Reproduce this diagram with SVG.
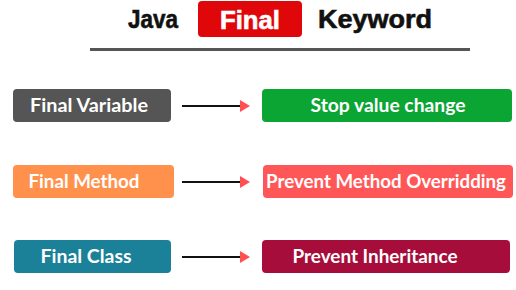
<svg xmlns="http://www.w3.org/2000/svg" width="516" height="290" viewBox="0 0 516 290">
<defs>
<marker id="ah" viewBox="0 0 10 12" refX="0" refY="6" markerWidth="10" markerHeight="12" markerUnits="userSpaceOnUse" orient="auto">
<path d="M0,0 L10,6 L0,12 Z" fill="#ff4f4f"/>
</marker>
<style>
.t{font-family:"Liberation Sans",Arial,sans-serif;font-weight:bold;font-size:25px;fill:#111;stroke:#111;stroke-width:0.6}
.n{font-family:Lato,"Open Sans",sans-serif;font-weight:bold;font-size:19px;fill:#fff;text-anchor:middle}
.c{stroke:#111;stroke-width:2;fill:none;marker-end:url(#ah)}
</style>
</defs>
<rect width="516" height="290" fill="#fff"/>
<g id="title">
<text class="t" x="128" y="28" textLength="50" lengthAdjust="spacingAndGlyphs">Java</text>
<rect x="198" y="1" width="104" height="36" rx="4" fill="#e0070b"/>
<text class="t" x="220" y="29" style="fill:#fff;stroke:#fff" textLength="60" lengthAdjust="spacingAndGlyphs">Final</text>
<text class="t" x="318" y="28" textLength="114" lengthAdjust="spacingAndGlyphs">Keyword</text>
<rect x="90" y="48" width="380" height="3" fill="#555"/>
</g>
<g id="finalVariable">
<rect x="13" y="89" width="158" height="33" rx="4" fill="#555555"/>
<text class="n" x="89" y="112" textLength="118" lengthAdjust="spacingAndGlyphs">Final Variable</text>
</g>
<g id="stopValue">
<rect x="262" y="89" width="250" height="33" rx="4" fill="#0aa532"/>
<text class="n" x="388" y="112" textLength="155" lengthAdjust="spacingAndGlyphs">Stop value change</text>
</g>
<g id="finalMethod">
<rect x="13" y="165" width="161" height="33" rx="4" fill="#ff914d"/>
<text class="n" x="84" y="188" textLength="111" lengthAdjust="spacingAndGlyphs">Final Method</text>
</g>
<g id="preventOverriding">
<rect x="263" y="165" width="250" height="33" rx="4" fill="#ff5757"/>
<text class="n" x="386" y="188" textLength="240" lengthAdjust="spacingAndGlyphs">Prevent Method Overridding</text>
</g>
<g id="finalClass">
<rect x="14" y="240" width="157" height="33" rx="4" fill="#1a8199"/>
<text class="n" x="86" y="263" textLength="91" lengthAdjust="spacingAndGlyphs">Final Class</text>
</g>
<g id="preventInheritance">
<rect x="262" y="240" width="248" height="33" rx="4" fill="#a60d3a"/>
<text class="n" x="375" y="263" textLength="165" lengthAdjust="spacingAndGlyphs">Prevent Inheritance</text>
</g>
<g id="connectors">
<line class="c" x1="182" y1="106" x2="240" y2="106"/>
<line class="c" x1="182" y1="182" x2="240" y2="182"/>
<line class="c" x1="182" y1="257" x2="240" y2="257"/>
</g>
</svg>
